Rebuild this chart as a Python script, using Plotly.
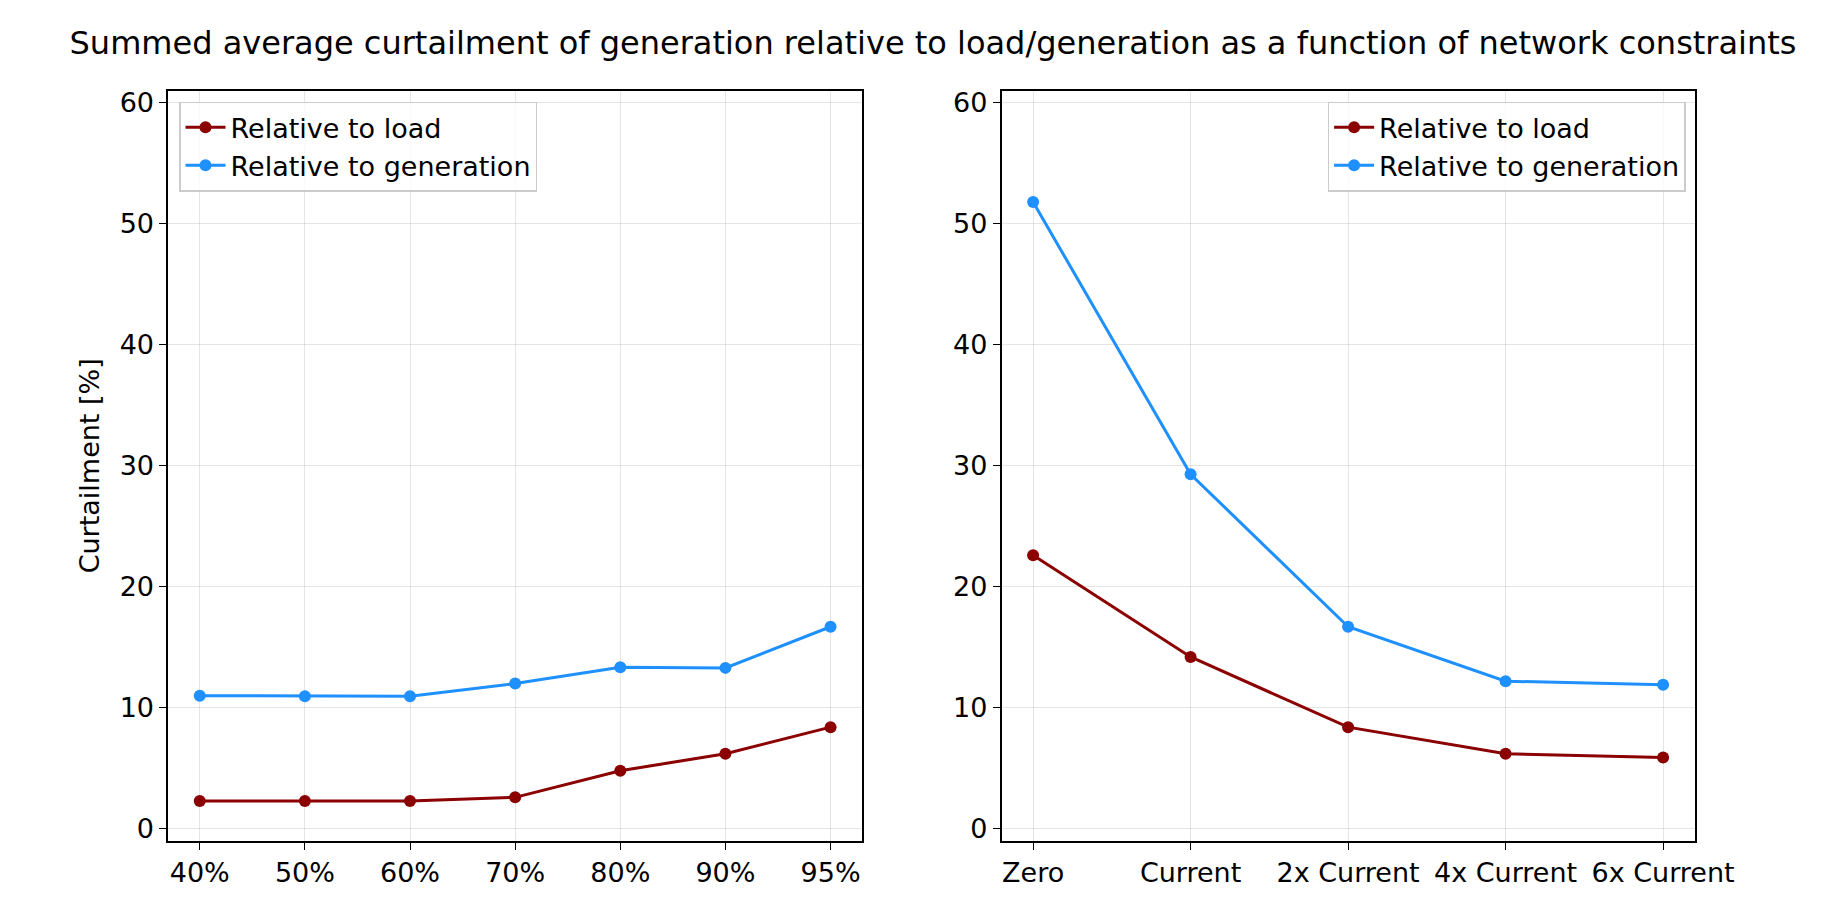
import plotly.graph_objects as go
from plotly.subplots import make_subplots

left_cats = ["40%", "50%", "60%", "70%", "80%", "90%", "95%"]
left_load = [2.3, 2.3, 2.3, 2.6, 4.8, 6.2, 8.4]
left_gen = [11.0, 10.95, 10.95, 12.0, 13.35, 13.3, 16.7]

right_cats = ["Zero", "Current", "2x Current", "4x Current", "6x Current"]
right_load = [22.6, 14.2, 8.4, 6.2, 5.9]
right_gen = [51.8, 29.3, 16.7, 12.2, 11.9]

RED = "#8b0000"
BLUE = "#1e90ff"

fig = make_subplots(rows=1, cols=2)

for col, cats, load, gen in [(1, left_cats, left_load, left_gen), (2, right_cats, right_load, right_gen)]:
    leg = "legend" if col == 1 else "legend2"
    fig.add_trace(go.Scatter(x=cats, y=load, mode="lines+markers", name="Relative to load",
                             line=dict(color=RED, width=3), marker=dict(size=12, color=RED),
                             legend=leg), row=1, col=col)
    fig.add_trace(go.Scatter(x=cats, y=gen, mode="lines+markers", name="Relative to generation",
                             line=dict(color=BLUE, width=3), marker=dict(size=12, color=BLUE),
                             legend=leg), row=1, col=col)

axis_style = dict(showline=True, linecolor="black", linewidth=1.5, mirror=True,
                  ticks="outside", ticklen=7, tickcolor="black",
                  gridcolor="rgba(0,0,0,0.1)", zeroline=False, tickfont=dict(size=27, color="black"))

fig.update_xaxes(axis_style)
fig.update_yaxes(axis_style, range=[-1, 61], tickvals=[0, 10, 20, 30, 40, 50, 60])
fig.update_xaxes(domain=[0.089, 0.4745], range=[-0.3, 6.3], row=1, col=1)
fig.update_xaxes(domain=[0.552, 0.937], range=[-0.2, 4.2], row=1, col=2)
fig.update_yaxes(domain=[0.084, 0.912])
fig.update_yaxes(title=dict(text="Curtailment [%]", font=dict(size=27, color="black"), standoff=12), row=1, col=1)

legend_style = dict(font=dict(size=27, color="black"), bgcolor="rgba(255,255,255,0.8)",
                    bordercolor="#cccccc", borderwidth=1.5, yanchor="top", y=0.9, itemwidth=40)
fig.update_layout(
    width=1839, height=912,
    font=dict(family="DejaVu Sans", color="black"),
    plot_bgcolor="white", paper_bgcolor="white",
    margin=dict(l=0, r=0, t=0, b=0),
    title=dict(text="Summed average curtailment of generation relative to load/generation as a function of network constraints",
               x=0.503, xanchor="center", y=0.962, yanchor="middle", font=dict(size=32, color="black")),
    legend=dict(legend_style, x=0.095, xanchor="left"),
    legend2=dict(legend_style, x=0.932, xanchor="right"),
)

fig.write_html("out.html")
